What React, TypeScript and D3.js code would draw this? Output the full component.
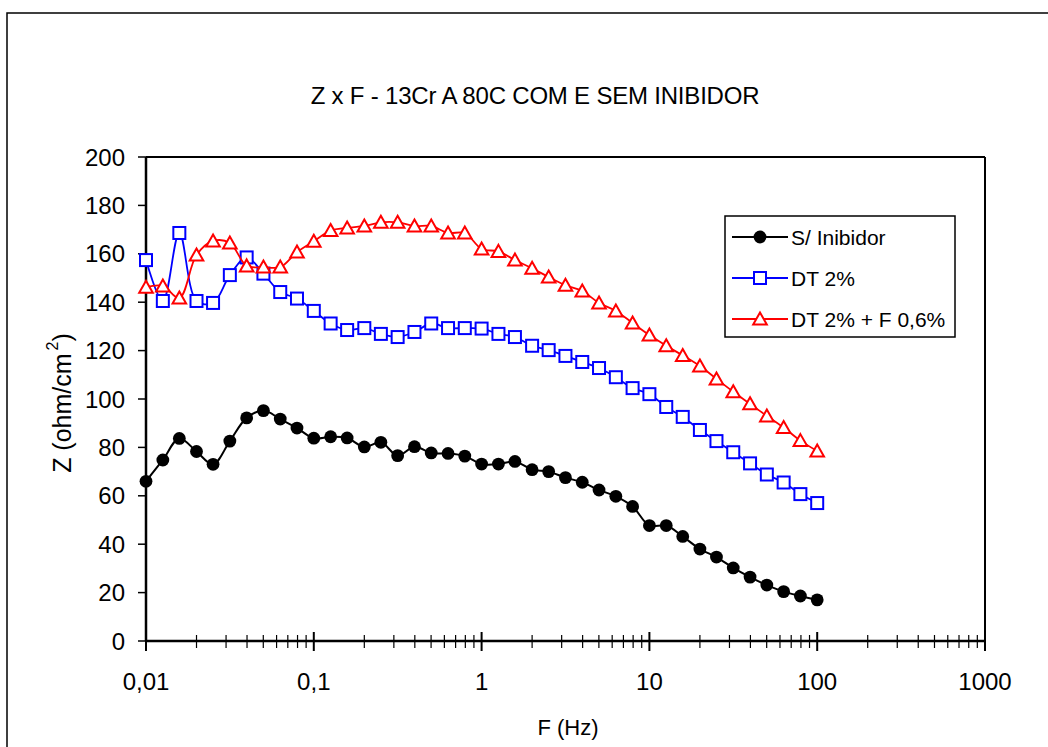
import React from "react";
import * as d3 from "d3";

// frequencies (Hz), 10 points per decade
const freq = [
  0.01, 0.0126, 0.0158, 0.02, 0.0251, 0.0316, 0.0398, 0.0501, 0.0631, 0.0794,
  0.1, 0.126, 0.158, 0.2, 0.251, 0.316, 0.398, 0.501, 0.631, 0.794,
  1, 1.26, 1.58, 2, 2.51, 3.16, 3.98, 5.01, 6.31, 7.94,
  10, 12.6, 15.8, 20, 25.1, 31.6, 39.8, 50.1, 63.1, 79.4, 100,
];

const semInibidor = [
  66, 74.8, 83.7, 78.3, 73, 82.6, 92.2, 95.2, 91.7, 88,
  83.8, 84.4, 83.9, 80.2, 82.1, 76.6, 80.3, 77.7, 77.5, 76.4,
  73.1, 73.1, 74.2, 70.8, 70, 67.5, 65.6, 62.4, 59.8, 55.6,
  47.7, 47.7, 43.2, 38, 34.7, 30.2, 26.4, 23.1, 20.4, 18.6, 17,
];

const dt2 = [
  157.4, 140.5, 168.6, 140.5, 139.7, 151.2, 158.5, 151.8, 144.2, 141.5,
  136.4, 131.2, 128.5, 129.3, 126.9, 125.6, 127.7, 131.2, 129.3, 129.3,
  129.1, 126.9, 125.6, 122, 120.2, 117.8, 115.3, 112.8, 109, 104.5,
  102, 96.7, 92.6, 87.2, 82.6, 78, 73.4, 68.8, 65.5, 60.7, 57,
];

const dt2f06 = [
  146.2, 146.7, 141.7, 159.5, 165.3, 164.5, 155, 154.5, 154.5, 160.7,
  165.2, 169.6, 170.7, 171.5, 173, 173, 171.5, 171.5, 168.6, 168.6,
  162, 161, 157.4, 154, 150.4, 147, 144.6, 139.7, 136.4, 131.4,
  126.4, 122, 118, 113.6, 108.3, 103, 98, 93, 88.2, 82.8, 78.5,
];

const seriesNames = ["S/ Inibidor", "DT 2%", "DT 2% + F 0,6%"];
const xTickLabels = ["0,01", "0,1", "1", "10", "100", "1000"];
const yTicks = [0, 20, 40, 60, 80, 100, 120, 140, 160, 180, 200];

const W = 1048;
const H = 747;
const left = 146;
const right = 985;
const top = 157;
const bottom = 641;
const font = "'Liberation Sans', Arial, sans-serif";

function Marker({ kind, cx, cy, color }) {
  if (kind === "circle") return <circle cx={cx} cy={cy} r={6.4} fill={color} />;
  if (kind === "square")
    return (
      <rect x={cx - 6} y={cy - 6} width={12} height={12} fill="#fff" stroke={color} strokeWidth={2} />
    );
  return (
    <path
      d={`M${cx},${cy - 6.5}L${cx + 6.8},${cy + 5.5}L${cx - 6.8},${cy + 5.5}Z`}
      fill="#fff"
      stroke={color}
      strokeWidth={2}
    />
  );
}

export default function App() {
  const x = d3.scaleLog().domain([0.01, 1000]).range([left, right]);
  const y = d3.scaleLinear().domain([0, 200]).range([bottom, top]);

  const series = [
    { name: seriesNames[0], values: semInibidor, color: "#000000", kind: "circle" },
    { name: seriesNames[1], values: dt2, color: "#0000ff", kind: "square" },
    { name: seriesNames[2], values: dt2f06, color: "#ff0000", kind: "triangle" },
  ];

  const line = d3
    .line<number>()
    .x((d, i) => x(freq[i]))
    .y((d) => y(d))
    .curve(d3.curveCatmullRom);

  const allTicks = x.ticks();
  const majors = [0.01, 0.1, 1, 10, 100, 1000];
  const minors = allTicks.filter((t) => !majors.some((m) => Math.abs(m - t) / m < 1e-6));

  const legendRows = [237, 278, 319];

  return (
    <svg
      width={W}
      height={H}
      style={{ position: "absolute", left: 0, top: 0, display: "block", background: "#fff" }}
      fontFamily={font}
    >
      <rect x={0} y={0} width={W} height={H} fill="#fff" />
      {/* outer chart frame */}
      <rect x={7} y={13} width={W + 50} height={H + 50} fill="none" stroke="#000" strokeWidth={1.5} />

      {/* title */}
      <text x={535} y={95} textAnchor="middle" dominantBaseline="central" fontSize={24} letterSpacing={-0.2}>
        Z x F - 13Cr A 80C COM E SEM INIBIDOR
      </text>

      {/* plot area border */}
      <line x1={left} y1={top} x2={right} y2={top} stroke="#000" strokeWidth={2} />
      <line x1={right} y1={top} x2={right} y2={bottom} stroke="#000" strokeWidth={2} />

      {/* y ticks */}
      {yTicks.map((t) => (
        <g key={t}>
          <line x1={left - 8} x2={left} y1={y(t)} y2={y(t)} stroke="#000" strokeWidth={1.5} />
          <text x={125} y={y(t)} textAnchor="end" dominantBaseline="central" fontSize={24}>
            {t}
          </text>
        </g>
      ))}

      {/* x ticks */}
      {minors.map((t, i) => (
        <line key={"m" + i} x1={x(t)} x2={x(t)} y1={bottom - 6} y2={bottom + 7} stroke="#000" strokeWidth={1.2} />
      ))}
      {majors.map((t, i) => (
        <g key={"M" + i}>
          <line x1={x(t)} x2={x(t)} y1={bottom - 9} y2={bottom + 10} stroke="#000" strokeWidth={2} />
          <text x={x(t)} y={681} textAnchor="middle" dominantBaseline="central" fontSize={24}>
            {xTickLabels[i]}
          </text>
        </g>
      ))}

      {/* axes */}
      <line x1={left} y1={top} x2={left} y2={bottom} stroke="#000" strokeWidth={2.5} />
      <line x1={left} y1={bottom} x2={right} y2={bottom} stroke="#000" strokeWidth={2.5} />

      {/* axis titles */}
      <text x={568} y={727} textAnchor="middle" dominantBaseline="central" fontSize={22}>
        F (Hz)
      </text>
      <text
        transform={`translate(62,403) rotate(-90)`}
        textAnchor="middle"
        dominantBaseline="central"
        fontSize={25}
      >
        Z (ohm/cm
        <tspan fontSize={16} dy={-10} dx={3}>
          2
        </tspan>
        <tspan dy={10}>)</tspan>
      </text>

      {/* series */}
      {series.map((s) => (
        <g key={s.name}>
          <path d={line(s.values) || ""} fill="none" stroke={s.color} strokeWidth={s.kind === "circle" ? 2 : 1.8} />
          {s.values.map((v, i) => (
            <Marker key={i} kind={s.kind} cx={x(freq[i])} cy={y(v)} color={s.color} />
          ))}
        </g>
      ))}

      {/* legend */}
      <rect x={725} y={216} width={230} height={121} fill="#fff" stroke="#000" strokeWidth={1.5} />
      {series.map((s, i) => (
        <g key={"lg" + i}>
          <line x1={732} x2={788} y1={legendRows[i]} y2={legendRows[i]} stroke={s.color} strokeWidth={2} />
          <Marker kind={s.kind} cx={760} cy={legendRows[i]} color={s.color} />
          <text x={791} y={legendRows[i]} dominantBaseline="central" fontSize={21}>
            {s.name}
          </text>
        </g>
      ))}
    </svg>
  );
}
